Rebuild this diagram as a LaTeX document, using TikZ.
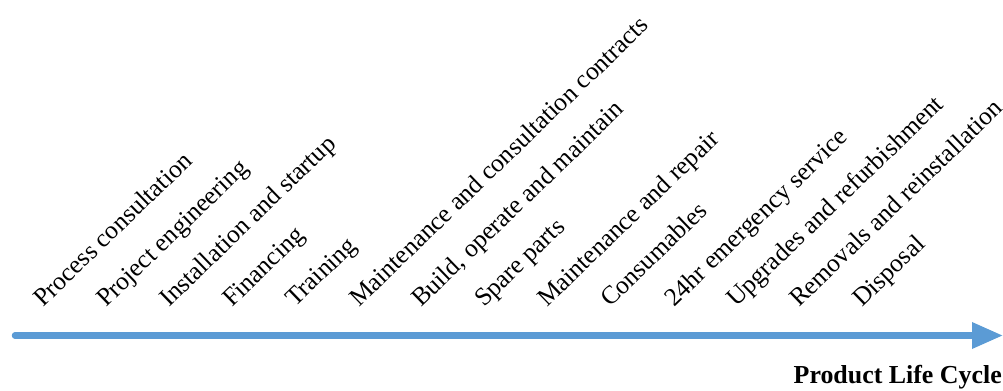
\documentclass[tikz,border=0pt]{standalone}
\usepackage{fontspec}
\setmainfont{Liberation Serif}
\usetikzlibrary{arrows.meta}
\definecolor{lcblue}{HTML}{5B9BD5}
\begin{document}
\begin{tikzpicture}[x=1bp,y=1bp,
  stage/.style={anchor=base west, inner sep=0pt, rotate=44,
    font=\fontsize{25.6}{30}\selectfont},
  timeline/.style={draw=lcblue, line width=6.5bp, line cap=round,
    -{Triangle[length=31bp,width=25bp]}}]
\useasboundingbox (0,0) rectangle (1003,390);
% stages along the life cycle
\node[stage] (s1)  at (43,82)  {Process consultation};
\node[stage] (s2)  at (106,82) {Project engineering};
\node[stage] (s3)  at (169,82) {Installation and startup};
\node[stage] (s4)  at (232,82) {Financing};
\node[stage] (s5)  at (295,82) {Training};
\node[stage] (s6)  at (359,82) {Maintenance and consultation contracts};
\node[stage] (s7)  at (421,82) {Build, operate and maintain};
\node[stage] (s8)  at (484,82) {Spare parts};
\node[stage] (s9)  at (547,82) {Maintenance and repair};
\node[stage] (s10) at (610,82) {Consumables};
\node[stage] (s11) at (674,82) {24hr emergency service};
\node[stage] (s12) at (736,82) {Upgrades and refurbishment};
\node[stage] (s13) at (799,82) {Removals and reinstallation};
\node[stage] (s14) at (862,82) {Disposal};
% time axis
\coordinate (t0) at (15,54.5);
\coordinate (t1) at (1003,54.5);
\draw[timeline] (t0) -- (t1);
\node[anchor=base east, inner sep=0pt, font=\fontsize{26}{30}\bfseries] (lbl) at (1002,7) {Product Life Cycle};
\end{tikzpicture}
\end{document}
